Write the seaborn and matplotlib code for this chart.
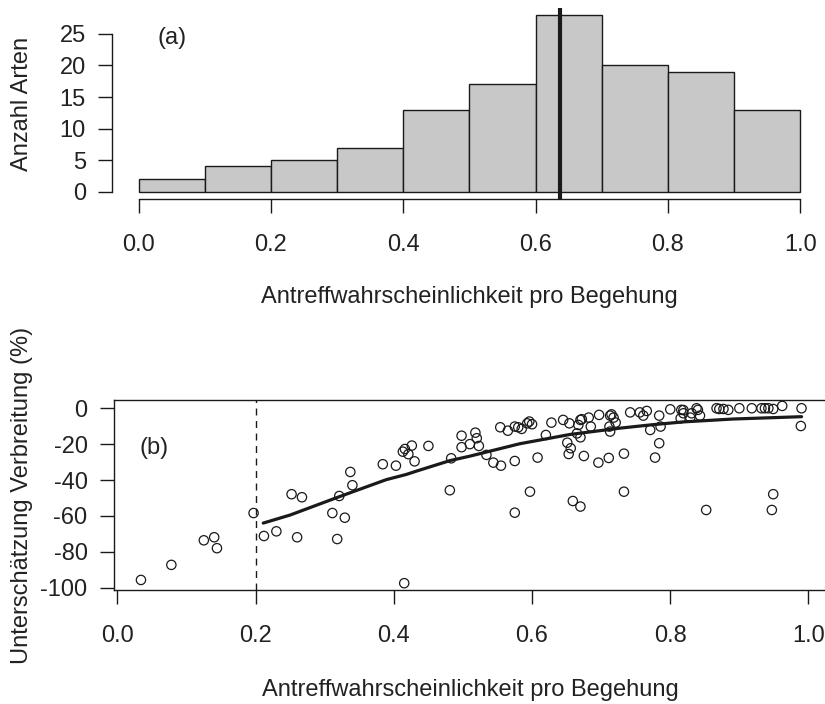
import numpy as np
import pandas as pd
import matplotlib
matplotlib.use("Agg")
import matplotlib.pyplot as plt
import seaborn as sns

# histogram (a)
bin_edges = [0.0, 0.1, 0.2, 0.3, 0.4, 0.5, 0.6, 0.7, 0.8, 0.9, 1.0]
counts = [2, 4, 5, 7, 13, 17, 28, 20, 19, 13]
mean_p = 0.637

# scatter (b)
p_obs = [0.034, 0.078, 0.125, 0.140, 0.144, 0.197, 0.212, 0.230, 0.252, 0.267,
         0.260, 0.321, 0.337, 0.340, 0.311, 0.329, 0.318, 0.384, 0.403, 0.413,
         0.416, 0.421, 0.426, 0.430, 0.450, 0.415, 0.481, 0.483, 0.498, 0.498,
         0.510, 0.518, 0.520, 0.523, 0.534, 0.544, 0.555, 0.575, 0.608, 0.554,
         0.565, 0.575, 0.580, 0.585, 0.596, 0.600, 0.620, 0.628, 0.645, 0.654,
         0.651, 0.656, 0.653, 0.675, 0.696, 0.711, 0.733, 0.597, 0.575, 0.659,
         0.670, 0.733, 0.667, 0.670, 0.682, 0.685, 0.697, 0.713, 0.715, 0.718,
         0.721, 0.712, 0.713, 0.670, 0.665, 0.742, 0.756, 0.761, 0.766, 0.771,
         0.784, 0.786, 0.784, 0.778, 0.800, 0.816, 0.819, 0.815, 0.831, 0.838,
         0.840, 0.843, 0.829, 0.867, 0.871, 0.877, 0.884, 0.900, 0.918, 0.932,
         0.937, 0.942, 0.949, 0.962, 0.990, 0.989, 0.852, 0.949, 0.947, 0.819,
         0.593, 0.672]
unter = [-95.7, -87.3, -73.6, -71.9, -78.0, -58.4, -71.2, -68.6, -47.9, -49.6,
         -71.9, -48.9, -35.5, -42.9, -58.4, -61.0, -72.9, -31.2, -32.0, -24.2,
         -22.7, -25.6, -20.8, -29.6, -21.0, -97.5, -45.7, -27.9, -15.3, -21.7,
         -20.0, -13.6, -16.7, -21.0, -26.0, -30.3, -32.0, -29.4, -27.5, -10.6,
         -12.5, -10.2, -10.6, -11.5, -7.4, -8.9, -14.9, -8.0, -6.5, -8.4,
         -19.2, -22.3, -25.5, -26.6, -30.3, -27.7, -25.3, -46.5, -58.2, -51.7,
         -54.8, -46.5, -9.3, -6.5, -5.2, -10.2, -3.7, -4.1, -3.4, -5.2,
         -8.0, -10.2, -13.0, -16.2, -14.0, -2.3, -2.3, -4.1, -1.5, -12.1,
         -4.1, -10.2, -19.5, -27.5, -0.6, -0.9, -2.8, -5.6, -2.8, 0.0,
         -0.9, -4.1, -5.2, 0.0, -0.4, -0.4, -0.9, 0.0, 0.0, 0.0,
         0.0, 0.0, -0.4, 1.3, 0.0, -9.9, -56.7, -47.9, -56.7, -1.0,
         -8.4, -6.1]

# smoothed curve
curve_x = [0.211, 0.250, 0.321, 0.389, 0.418, 0.433, 0.481, 0.510, 0.582, 0.655,
           0.727, 0.771, 0.819, 0.891, 0.990]
curve_y = [-64.0, -59.5, -49.3, -39.8, -36.9, -35.0, -29.2, -26.7, -19.8, -14.6,
           -11.1, -9.3, -7.6, -6.0, -4.7]

sns.set_style("ticks")
plt.rcParams["font.family"] = ["Liberation Sans", "DejaVu Sans"]
plt.rcParams["axes.unicode_minus"] = False

W, H = 825, 704
fig = plt.figure(figsize=(W / 100, H / 100), dpi=100)
txt = "#222222"
fs = 17

# ---- (a) histogram
ax1 = fig.add_axes([112.2 / W, 1 - 198.8 / H, 714.5 / W, 190.9 / H])
mids = [(a + b) / 2 for a, b in zip(bin_edges[:-1], bin_edges[1:])]
sns.histplot(x=mids, weights=counts, bins=bin_edges, ax=ax1, color="#c8c8c8",
             edgecolor="#1a1a1a", linewidth=1.0, alpha=1)
ax1.axvline(mean_p, color="#1a1a1a", lw=3)
ax1.set_xlim(-0.04, 1.04)
ax1.set_ylim(-1.12, 29.12)
ax1.set_xticks([0.0, 0.2, 0.4, 0.6, 0.8, 1.0])
ax1.set_xticklabels(["0.0", "0.2", "0.4", "0.6", "0.8", "1.0"])
ax1.set_yticks([0, 5, 10, 15, 20, 25])
ax1.spines["top"].set_visible(False)
ax1.spines["right"].set_visible(False)
ax1.spines["left"].set_bounds(0, 25)
ax1.spines["bottom"].set_bounds(0, 1)
ax1.text(0.051, 24.4, "(a)", fontsize=fs, ha="center", va="center", color=txt)
ax1.set_ylabel("Anzahl Arten", fontsize=fs, color=txt, va="center")
ax1.yaxis.set_label_coords(21.7 / W, 1 - 104 / H, transform=fig.transFigure)
ax1.set_xlabel("Antreffwahrscheinlichkeit pro Begehung", fontsize=fs, color=txt, va="center")
ax1.xaxis.set_label_coords(469.5 / W, 1 - 297 / H, transform=fig.transFigure)

# ---- (b) scatter
ax2 = fig.add_axes([114 / W, 1 - 590 / H, 713.8 / W, 190 / H])
ax2.axvline(0.2, color="#1a1a1a", lw=1, linestyle=(0, (5, 4)))
sns.lineplot(x=curve_x, y=curve_y, ax=ax2, color="#1a1a1a", lw=2.3, sort=False)
sns.scatterplot(x=p_obs, y=unter, ax=ax2, s=45, facecolor="none",
                edgecolor="#1a1a1a", linewidth=0.9)
ax2.set_xlim(-0.005, 1.028)
ax2.set_ylim(-101.3, 4.6)
ax2.set_xticks([0.0, 0.2, 0.4, 0.6, 0.8, 1.0])
ax2.set_xticklabels(["0.0", "0.2", "0.4", "0.6", "0.8", "1.0"])
ax2.set_yticks([0, -20, -40, -60, -80, -100])
ax2.set_yticklabels(["0", "-20", "-40", "-60", "-80", "-100"])
ax2.text(0.053, -21.9, "(b)", fontsize=fs, ha="center", va="center", color=txt)
ax2.set_ylabel("Unterschätzung Verbreitung (%)", fontsize=fs, color=txt, va="center")
ax2.yaxis.set_label_coords(21.7 / W, 1 - 495 / H, transform=fig.transFigure)
ax2.set_xlabel("Antreffwahrscheinlichkeit pro Begehung", fontsize=fs, color=txt, va="center")
ax2.xaxis.set_label_coords(470 / W, 1 - 690 / H, transform=fig.transFigure)

for ax in (ax1, ax2):
    for sp in ax.spines.values():
        sp.set_color("#1a1a1a")
        sp.set_linewidth(1.0)
    ax.tick_params(axis="both", direction="out", length=10, width=1.0,
                   color="#1a1a1a", labelsize=fs, labelcolor=txt)
    ax.tick_params(axis="x", pad=15)
    ax.tick_params(axis="y", pad=9)

fig.savefig("out.png", dpi=100)
